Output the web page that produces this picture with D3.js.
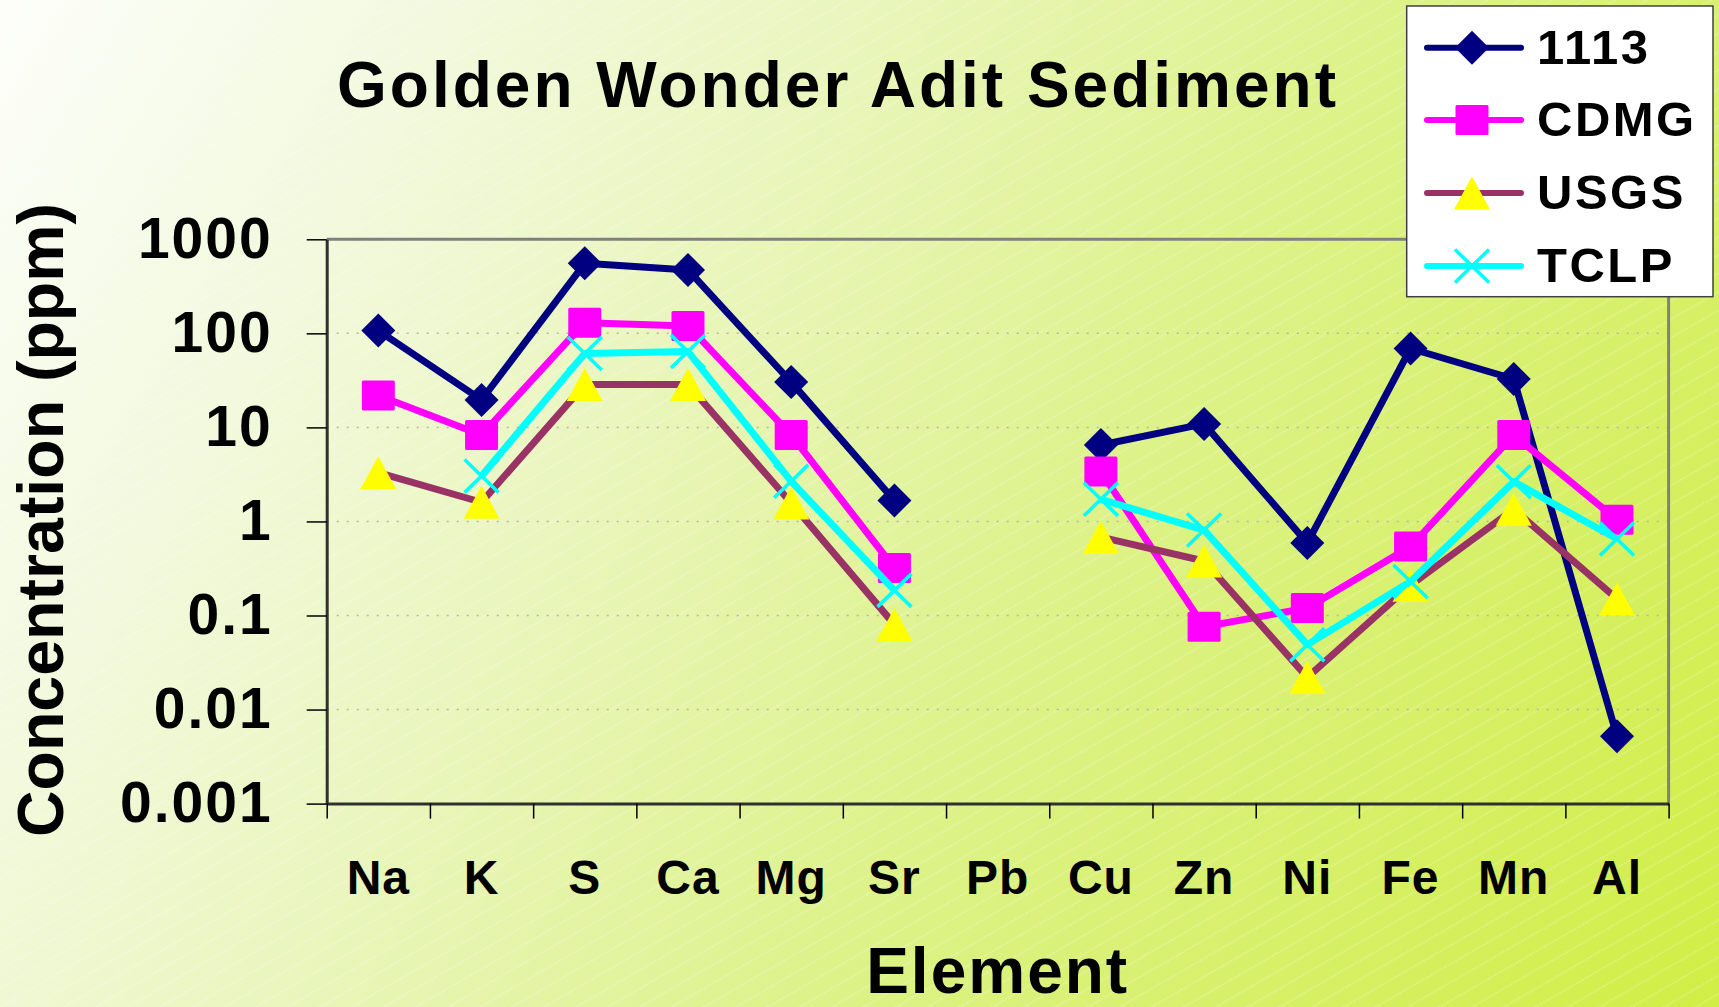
<!DOCTYPE html>
<html>
<head>
<meta charset="utf-8">
<script src="https://cdn.jsdelivr.net/npm/d3@7"></script>
<style>
  body { margin: 0; overflow: hidden; }
  text { font-family: "Liberation Sans", Arial, sans-serif; font-weight: bold; fill: #000; }
</style>
</head>
<body>
<script>
const largura = 1719
const altura = 1007
const area = {esquerda: 326.7, direita: 1668.6, topo: 239.3, base: 803.6}

// dados
const elementos = ['Na', 'K', 'S', 'Ca', 'Mg', 'Sr', 'Pb', 'Cu', 'Zn', 'Ni', 'Fe', 'Mn', 'Al']
const serieNomes = ['1113', 'CDMG', 'USGS', 'TCLP']
const s1113 = [107, 19.6, 556, 472, 30.3, 1.67, null, 6.5, 10.9, 0.59, 69, 32.7, 0.0052]
const sCdmg = [21.8, 8.3, 130, 120, 8.3, 0.32, null, 3.39, 0.076, 0.12, 0.54, 8.3, 1.04]
const sUsgs = [3.3, 1.6, 28.5, 28.5, 1.57, 0.08, null, 0.68, 0.38, 0.022, 0.21, 1.35, 0.15]
const sTclp = [null, 3.05, 61, 64, 2.67, 0.185, null, 1.72, 0.81, 0.049, 0.23, 2.65, 0.65]
const yTicks = [0.001, 0.01, 0.1, 1, 10, 100, 1000]
const yRotulos = ['0.001', '0.01', '0.1', '1', '10', '100', '1000']

const estilos = [
  {linha: '#000080', marca: 'diamante', preench: '#000080'},
  {linha: '#ff00ff', marca: 'quadrado', preench: '#ff00ff'},
  {linha: '#993366', marca: 'triangulo', preench: '#ffff00'},
  {linha: '#00ffff', marca: 'xis', preench: '#00ffff'}
]
const series = [s1113, sCdmg, sUsgs, sTclp]

var svg = d3.select('body').append('svg')
  .attr('width', largura)
  .attr('height', altura)

var defs = svg.append('defs')
var grad = defs.append('linearGradient')
  .attr('id', 'fundo')
  .attr('gradientUnits', 'userSpaceOnUse')
  .attr('x1', 0).attr('y1', 0).attr('x2', largura).attr('y2', altura)
;[[0, '#fdfefa'], [0.2, '#f2f9dd'], [0.36, '#eaf6c0'], [0.6, '#ddf28a'], [1, '#d0ee45']]
  .forEach(function (s) { grad.append('stop').attr('offset', s[0]).attr('stop-color', s[1]) })

var hach = defs.append('pattern')
  .attr('id', 'hachura')
  .attr('patternUnits', 'userSpaceOnUse')
  .attr('width', 16).attr('height', 16)
  .attr('patternTransform', 'rotate(-30)')
hach.append('line')
  .attr('x1', 0).attr('x2', 16).attr('y1', 8).attr('y2', 8)
  .attr('stroke', '#ffffff').attr('stroke-opacity', 0.4)
  .attr('stroke-width', 1).attr('stroke-dasharray', '2,1')

svg.append('rect').attr('width', largura).attr('height', altura).attr('fill', 'url(#fundo)')
svg.append('rect').attr('width', largura).attr('height', altura).attr('fill', 'url(#hachura)')

var x = d3.scaleBand().domain(elementos).range([area.esquerda, area.direita])
var y = d3.scaleLog().domain([0.001, 1000]).range([area.base, area.topo])

// grade pontilhada
svg.append('g').selectAll('line')
  .data(yTicks.slice(1, -1))
  .join('line')
    .attr('x1', area.esquerda).attr('x2', area.direita)
    .attr('y1', function (d) { return y(d) }).attr('y2', function (d) { return y(d) })
    .attr('stroke', '#b4b8a0').attr('stroke-width', 1.5)
    .attr('stroke-dasharray', '2,8')

// moldura superior e direita
svg.append('path')
  .attr('d', 'M' + area.esquerda + ',' + area.topo + 'H' + area.direita + 'V' + area.base)
  .attr('fill', 'none').attr('stroke', '#808080').attr('stroke-width', 3)

// eixo y
var eixoY = svg.append('g')
  .attr('transform', 'translate(' + area.esquerda + ',0)')
  .call(d3.axisLeft(y).tickValues(yTicks).tickSize(20).tickSizeOuter(0).tickPadding(34)
    .tickFormat(function (d, i) { return yRotulos[i] }))
eixoY.select('.domain').attr('stroke', '#303030').attr('stroke-width', 3)
eixoY.selectAll('.tick line').attr('stroke', '#000').attr('stroke-width', 1.5)
eixoY.selectAll('.tick text')
  .style('font-family', '"Liberation Sans", Arial, sans-serif')
  .style('font-weight', 'bold').style('font-size', '57px').style('letter-spacing', '2px')
  .attr('fill', '#000')

// eixo x: marcas nas divisas das categorias
var xDivisas = d3.scaleLinear().domain([0, elementos.length]).range([area.esquerda, area.direita])
var eixoXMarcas = svg.append('g')
  .attr('transform', 'translate(0,' + area.base + ')')
  .call(d3.axisBottom(xDivisas).ticks(elementos.length).tickSize(15).tickSizeOuter(0).tickFormat(''))
eixoXMarcas.select('.domain').attr('stroke', '#303030').attr('stroke-width', 3)
eixoXMarcas.selectAll('.tick line').attr('stroke', '#000').attr('stroke-width', 1.5)

var eixoX = svg.append('g')
  .attr('transform', 'translate(0,' + area.base + ')')
  .call(d3.axisBottom(x).tickSize(0).tickPadding(56))
eixoX.select('.domain').remove()
eixoX.selectAll('.tick text')
  .style('font-family', '"Liberation Sans", Arial, sans-serif')
  .style('font-weight', 'bold').style('font-size', '48px').style('letter-spacing', '1px')
  .attr('fill', '#000')

// marcadores
function marcador (g, tipo, preench, cor) {
  if (tipo === 'diamante') {
    g.append('path').attr('d', 'M0,-17L17,0L0,17L-17,0Z').attr('fill', preench)
  } else if (tipo === 'quadrado') {
    g.append('rect').attr('x', -16.5).attr('y', -15).attr('width', 33).attr('height', 30)
      .attr('rx', 1.5).attr('fill', preench)
  } else if (tipo === 'triangulo') {
    g.append('path').attr('d', 'M0,-16.5L18,16.5L-18,16.5Z').attr('fill', preench)
  } else {
    g.append('path').attr('d', 'M-17,-16.5L17,16.5M-17,16.5L17,-16.5')
      .attr('stroke', cor).attr('stroke-width', 3.5).attr('fill', 'none')
  }
}

var gerador = d3.line()
  .defined(function (d) { return d.v != null })
  .x(function (d) { return x(d.el) + x.bandwidth() / 2 })
  .y(function (d) { return y(d.v) })

series.forEach(function (valores, i) {
  var dados = elementos.map(function (el, j) { return {el: el, v: valores[j]} })
  var est = estilos[i]
  var g = svg.append('g').attr('class', 'serie')
  g.append('path')
    .attr('d', gerador(dados))
    .attr('fill', 'none')
    .attr('stroke', est.linha)
    .attr('stroke-width', 7)
    .attr('stroke-linejoin', 'round')
  dados.filter(function (d) { return d.v != null }).forEach(function (d) {
    var m = g.append('g')
      .attr('transform', 'translate(' + (x(d.el) + x.bandwidth() / 2) + ',' + y(d.v) + ')')
    marcador(m, est.marca, est.preench, est.linha)
  })
})

// titulos
svg.append('text')
  .attr('x', 838).attr('y', 106.7)
  .attr('text-anchor', 'middle')
  .style('font-size', '64px').style('letter-spacing', '3px')
  .text('Golden Wonder Adit Sediment')

svg.append('text')
  .attr('x', (area.esquerda + area.direita) / 2).attr('y', 993)
  .attr('text-anchor', 'middle')
  .style('font-size', '64px').style('letter-spacing', '2px')
  .text('Element')

svg.append('text')
  .attr('transform', 'translate(63,520) rotate(-90)')
  .attr('text-anchor', 'middle')
  .style('font-size', '64.5px')
  .text('Concentration (ppm)')

// legenda
var leg = svg.append('g')
leg.append('rect')
  .attr('x', 1406.7).attr('y', 6).attr('width', 306.3).attr('height', 290.7)
  .attr('fill', '#ffffff').attr('stroke', '#404040').attr('stroke-width', 1.5)
var linhasLeg = [47.7, 120, 193, 266]
serieNomes.forEach(function (nome, i) {
  var est = estilos[i]
  var yy = linhasLeg[i]
  leg.append('line')
    .attr('x1', 1427).attr('x2', 1521).attr('y1', yy).attr('y2', yy)
    .attr('stroke', est.linha).attr('stroke-width', 6).attr('stroke-linecap', 'round')
  var m = leg.append('g').attr('transform', 'translate(1472,' + yy + ')')
  marcador(m, est.marca, est.preench, est.linha)
  leg.append('text')
    .attr('x', 1537).attr('y', yy + 16)
    .style('font-size', '49px').style('letter-spacing', '2.5px')
    .text(nome)
})
</script>
</body>
</html>
